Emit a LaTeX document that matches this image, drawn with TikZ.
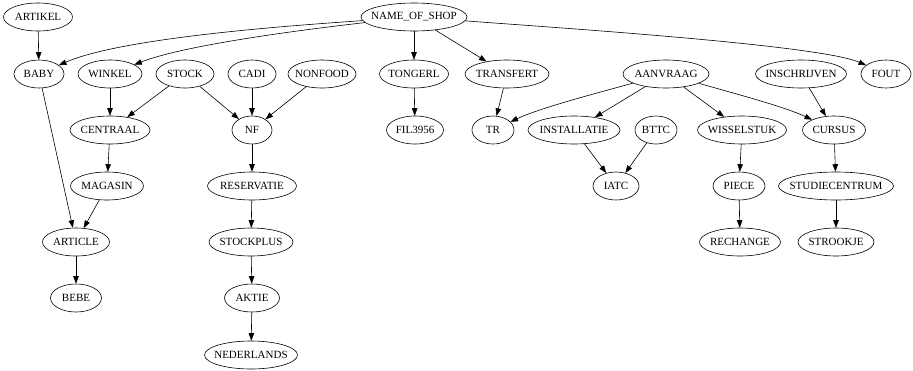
\documentclass[tikz,border=0pt]{standalone}
\usepackage{fontspec}
\setmainfont{Liberation Serif}
\usetikzlibrary{shapes.geometric,arrows.meta}

% centred label with no width of its own, so the ellipse size comes from the style
\newcommand{\ovlabel}[1]{\makebox[0pt]{#1}}

\tikzset{
  nd/.style={ellipse, draw, line width=0.6pt, inner sep=0pt,
             minimum height=28pt, minimum width=#1,
             font=\fontsize{11}{13}\selectfont},
  nd/.default=50pt,
  edge/.style={draw, line width=0.6pt,
               -{Triangle[length=7.5pt,width=5.5pt]}}
}

\begin{document}
\begin{tikzpicture}[x=1pt, y=-1pt]
\useasboundingbox (0,0) rectangle (913,370);

% row 0
\node[nd=69pt]  (artikel) at (38,17)  {\ovlabel{ARTIKEL}};
\node[nd=106pt] (shop)    at (414,17) {\ovlabel{NAME\_OF\_SHOP}};

% row 1
\node[nd=50pt] (baby)      at (39,74)  {\ovlabel{BABY}};
\node[nd=64pt] (winkel)    at (110,74) {\ovlabel{WINKEL}};
\node[nd=58pt] (stock)     at (185,74) {\ovlabel{STOCK}};
\node[nd=48pt] (cadi)      at (252,74) {\ovlabel{CADI}};
\node[nd=68pt] (nonfood)   at (322,74) {\ovlabel{NONFOOD}};
\node[nd=69pt] (tongerl)   at (414,74) {\ovlabel{TONGERL}};
\node[nd=84pt] (transfert) at (507,74) {\ovlabel{TRANSFERT}};
\node[nd=86pt] (aanvraag)  at (666,74) {\ovlabel{AANVRAAG}};
\node[nd=91pt] (inschr)    at (801,74) {\ovlabel{INSCHRIJVEN}};
\node[nd=50pt] (fout)      at (886,74) {\ovlabel{FOUT}};

% row 2
\node[nd=80pt] (centraal)  at (110,130) {\ovlabel{CENTRAAL}};
\node[nd=40pt] (nf)        at (252,130) {\ovlabel{NF}};
\node[nd=57pt] (fil)       at (415,130) {\ovlabel{FIL3956}};
\node[nd=42pt] (tr)        at (493,130) {\ovlabel{TR}};
\node[nd=92pt] (install)   at (574,130) {\ovlabel{INSTALLATIE}};
\node[nd=42pt] (bttc)      at (656,130) {\ovlabel{BTTC}};
\node[nd=89pt] (wissel)    at (742,130) {\ovlabel{WISSELSTUK}};
\node[nd=63pt] (cursus)    at (834,130) {\ovlabel{CURSUS}};

% row 3
\node[nd=73pt]  (magasin)  at (107,186) {\ovlabel{MAGASIN}};
\node[nd=89pt]  (reserv)   at (252,186) {\ovlabel{RESERVATIE}};
\node[nd=46pt]  (iatc)     at (616,186) {\ovlabel{IATC}};
\node[nd=52pt]  (piece)    at (739,186) {\ovlabel{PIECE}};
\node[nd=115pt] (studie)   at (836,186) {\ovlabel{STUDIECENTRUM}};

% row 4
\node[nd=67pt] (article)   at (76,242)  {\ovlabel{ARTICLE}};
\node[nd=84pt] (stockplus) at (251,242) {\ovlabel{STOCKPLUS}};
\node[nd=81pt] (rechange)  at (740,242) {\ovlabel{RECHANGE}};
\node[nd=76pt] (strookje)  at (836,242) {\ovlabel{STROOKJE}};

% row 5
\node[nd=51pt] (bebe)      at (76,298)  {\ovlabel{BEBE}};
\node[nd=55pt] (aktie)     at (252,298) {\ovlabel{AKTIE}};

% row 6
\node[nd=93pt] (nederl)    at (251,355) {\ovlabel{NEDERLANDS}};

% edges
\path[edge] (artikel) -- (baby);
\path[edge] (shop) .. controls (300,25) and (123,37) .. (baby);
\path[edge] (shop) .. controls (300,30) and (185,45) .. (winkel);
\path[edge] (shop) -- (tongerl);
\path[edge] (shop) -- (transfert);
\path[edge] (shop) .. controls (560,28) and (820,45) .. (fout);

\path[edge] (winkel) -- (centraal);
\path[edge] (stock) -- (centraal);
\path[edge] (stock) -- (nf);
\path[edge] (cadi) -- (nf);
\path[edge] (nonfood) -- (nf);
\path[edge] (tongerl) -- (fil);
\path[edge] (transfert) -- (tr);

\path[edge] (aanvraag) .. controls (590,95) and (540,108) .. (tr);
\path[edge] (aanvraag) -- (install);
\path[edge] (aanvraag) -- (wissel);
\path[edge] (aanvraag) .. controls (740,95) and (785,107) .. (cursus);
\path[edge] (inschr) -- (cursus);

\path[edge] (install) -- (iatc);
\path[edge] (bttc) -- (iatc);
\path[edge] (wissel) -- (piece);
\path[edge] (cursus) -- (studie);

\path[edge] (centraal) -- (magasin);
\path[edge] (magasin) -- (article);
\path[edge] (baby) -- (article);

\path[edge] (nf) -- (reserv);
\path[edge] (reserv) -- (stockplus);
\path[edge] (stockplus) -- (aktie);
\path[edge] (aktie) -- (nederl);

\path[edge] (article) -- (bebe);
\path[edge] (piece) -- (rechange);
\path[edge] (studie) -- (strookje);
\end{tikzpicture}
\end{document}
